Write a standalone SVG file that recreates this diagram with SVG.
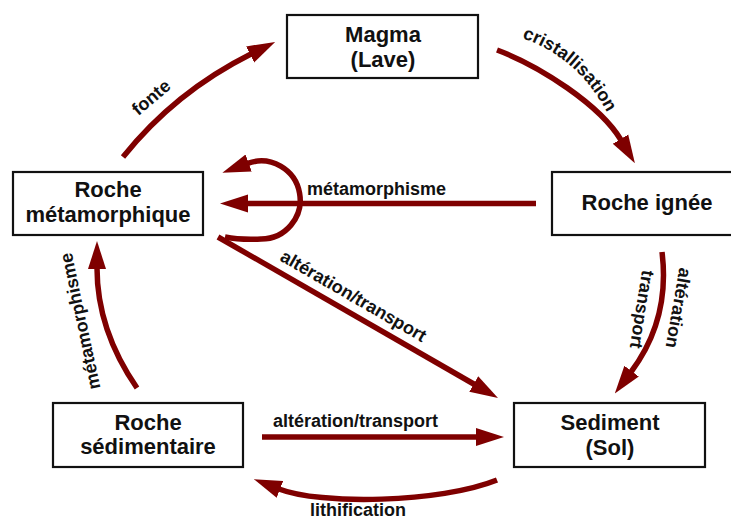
<svg xmlns="http://www.w3.org/2000/svg" width="731" height="521" viewBox="0 0 731 521">
<style>
.box{fill:#fff;stroke:#111;stroke-width:2.2}
.nt{font-family:"Liberation Sans",Arial,sans-serif;font-weight:bold;font-size:22px;fill:#111;text-anchor:middle}
.lb{font-family:"Liberation Sans",Arial,sans-serif;font-weight:bold;font-size:18px;fill:#111}
.ar{fill:none;stroke:#7f0000;stroke-width:5.5;marker-end:url(#ah)}
</style>
<defs>
<marker id="ah" markerUnits="userSpaceOnUse" viewBox="0 0 28 20" markerWidth="28" markerHeight="20" refX="1" refY="10" orient="auto">
<path d="M0,1 L28,10 L0,19 z" fill="#7f0000"/>
</marker>
<path id="tp-cris" d="M 522,38 Q 580,58 610,118"/>
</defs>
<rect width="731" height="521" fill="#fff"/>
<g id="connectors">
<path class="ar" d="M 123,157 Q 175,92 251,54"/>
<path class="ar" d="M 497,50 C 540,66 600,105 621,140"/>
<path class="ar" d="M 536,203.5 L 247,203.5"/>
<path class="ar" d="M 225,237 Q 240,240 261,239 A 39 39 0 1 0 247.7,163.4"/>
<path class="ar" d="M 218,237 L 474.6,384.5"/>
<path class="ar" d="M 662,252 C 668,300 655,340 631,372"/>
<path class="ar" d="M 262,437 L 477,437"/>
<path class="ar" d="M 497,480 C 440,503 320,505 279,489"/>
<path class="ar" d="M 137,388 Q 97,330 97,268"/>
</g>
<g id="labels">
<text class="lb" text-anchor="middle" transform="translate(155,102) rotate(-40)">fonte</text>
<text class="lb"><textPath href="#tp-cris">cristallisation</textPath></text>
<text class="lb" x="307" y="194.5">métamorphisme</text>
<text class="lb" transform="translate(279,260) rotate(30)">altération/transport</text>
<text class="lb" text-anchor="middle" transform="translate(672.5,307) rotate(100)">altération</text>
<text class="lb" text-anchor="middle" transform="translate(636,308.5) rotate(99)">transport</text>
<text class="lb" x="273" y="426.5">altération/transport</text>
<text class="lb" text-anchor="middle" x="358" y="516">lithification</text>
<text class="lb" text-anchor="middle" transform="translate(86,320) rotate(-102)">métamorphisme</text>
</g>
<g id="magma">
<rect class="box" x="287" y="15" width="191" height="63"/>
<text class="nt" x="383" y="42">Magma</text>
<text class="nt" x="383" y="67">(Lave)</text>
</g>
<g id="roche-metamorphique">
<rect class="box" x="13" y="172" width="190" height="63"/>
<text class="nt" x="108" y="197">Roche</text>
<text class="nt" x="108" y="222">métamorphique</text>
</g>
<g id="roche-ignee">
<rect class="box" x="552" y="172" width="190" height="63"/>
<text class="nt" x="647" y="210">Roche ignée</text>
</g>
<g id="roche-sedimentaire">
<rect class="box" x="53" y="403" width="190" height="64"/>
<text class="nt" x="148" y="430">Roche</text>
<text class="nt" x="148" y="454">sédimentaire</text>
</g>
<g id="sediment">
<rect class="box" x="514" y="403" width="191" height="64"/>
<text class="nt" x="610" y="430">Sediment</text>
<text class="nt" x="610" y="455">(Sol)</text>
</g>
</svg>
